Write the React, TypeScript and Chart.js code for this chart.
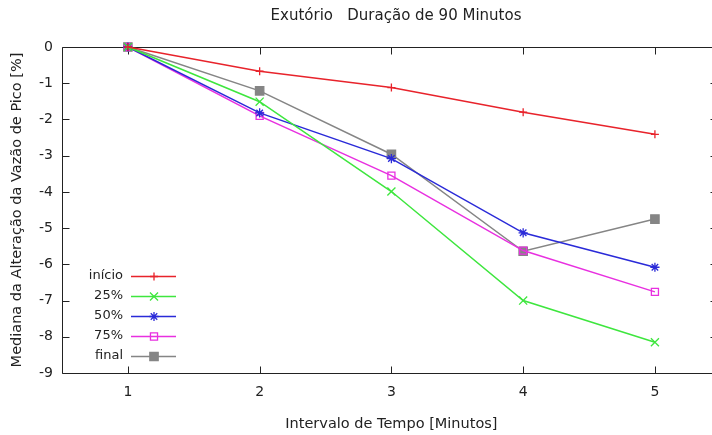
import React, { useEffect, useRef } from 'react';
import { Chart, registerables } from 'chart.js';
import { drawPoint } from 'chart.js/helpers';

Chart.register(...registerables);

const categories = [1, 2, 3, 4, 5];
const inicio = [0, -0.67, -1.12, -1.8, -2.41];
const p25 = [0, -1.51, -3.99, -7.0, -8.15];
const p50 = [0, -1.82, -3.08, -5.13, -6.08];
const p75 = [0, -1.9, -3.55, -5.62, -6.76];
const finalS = [0, -1.21, -2.96, -5.64, -4.75];
const seriesLabels = ['início', '25%', '50%', '75%', 'final'];
const yTickValues = [0, -1, -2, -3, -4, -5, -6, -7, -8, -9];
const chartTitle = 'Exutório   Duração de 90 Minutos';

const FONT = '"DejaVu Sans", sans-serif';
const TEXT = '#222';

const framePlugin = {
  id: 'frame',
  beforeDatasetsDraw(chart: any) {
    const { ctx, chartArea: a, scales } = chart;
    ctx.save();
    ctx.strokeStyle = '#222';
    ctx.lineWidth = 1;
    const l = Math.round(a.left) + 0.5;
    const t = Math.round(a.top) + 0.5;
    const b = Math.round(a.bottom) + 0.5;
    const r = Math.round(a.right) + 0.5;
    ctx.beginPath();
    ctx.moveTo(r, t);
    ctx.lineTo(l, t);
    ctx.lineTo(l, b);
    ctx.lineTo(r, b);
    ctx.stroke();
    const L = 7;
    ctx.beginPath();
    scales.x.ticks.forEach((tk: any) => {
      const px = Math.round(scales.x.getPixelForValue(tk.value)) + 0.5;
      ctx.moveTo(px, b);
      ctx.lineTo(px, b - L);
      ctx.moveTo(px, t);
      ctx.lineTo(px, t + L);
    });
    scales.y.ticks.forEach((tk: any) => {
      const py = Math.round(scales.y.getPixelForValue(tk.value)) + 0.5;
      ctx.moveTo(l, py);
      ctx.lineTo(l + L, py);
      ctx.moveTo(r, py);
      ctx.lineTo(r - 11, py);
    });
    ctx.stroke();
    ctx.fillStyle = TEXT;
    ctx.font = `15px ${FONT}`;
    ctx.textAlign = 'center';
    ctx.textBaseline = 'middle';
    ctx.fillText(chartTitle, 396, 16);
    ctx.restore();
  },
};

const legendPlugin = {
  id: 'gpLegend',
  afterDraw(chart: any) {
    const { ctx } = chart;
    ctx.save();
    chart.data.datasets.forEach((ds: any, i: number) => {
      const y = 276 + i * 20;
      ctx.font = `13px ${FONT}`;
      ctx.fillStyle = TEXT;
      ctx.textAlign = 'right';
      ctx.textBaseline = 'middle';
      ctx.fillText(ds.label, 123, y);
      ctx.strokeStyle = ds.borderColor;
      ctx.lineWidth = 1.5;
      ctx.beginPath();
      ctx.moveTo(131, y + 0.5);
      ctx.lineTo(176, y + 0.5);
      ctx.stroke();
      ctx.fillStyle = ds.pointBackgroundColor;
      ctx.strokeStyle = ds.borderColor;
      ctx.lineWidth = 1.3;
      drawPoint(ctx, { pointStyle: ds.pointStyle, radius: ds.pointRadius, borderWidth: 1.3, rotation: 0 } as any, 154, y + 0.5);
    });
    ctx.restore();
  },
};

function mk(label: string, data: number[], color: string, style: string, radius: number, fill: string) {
  return {
    label,
    data: categories.map((c, i) => ({ x: c, y: data[i] })),
    borderColor: color,
    backgroundColor: fill,
    pointBackgroundColor: fill,
    pointBorderColor: color,
    pointStyle: style,
    pointRadius: radius,
    pointBorderWidth: 1.3,
    borderWidth: 1.5,
    tension: 0,
    clip: false as any,
  };
}

export default function App() {
  const ref = useRef<HTMLCanvasElement>(null);
  useEffect(() => {
    if (!ref.current) return;
    const chart = new Chart(ref.current, {
      type: 'line',
      data: {
        datasets: [
          mk(seriesLabels[0], inicio, '#e8232b', 'cross', 4, '#e8232b'),
          mk(seriesLabels[1], p25, '#3ee63e', 'crossRot', 5.7, '#3ee63e'),
          mk(seriesLabels[2], p50, '#2a2ad8', 'star', 4.6, '#2a2ad8'),
          mk(seriesLabels[3], p75, '#e830e0', 'rect', 5, 'rgba(255,255,255,0)'),
          mk(seriesLabels[4], finalS, '#858585', 'rect', 5.9, '#858585'),
        ] as any,
      },
      options: {
        responsive: false,
        animation: false,
        layout: { padding: { left: 0, right: 3, top: 47, bottom: 0 } },
        plugins: {
          legend: { display: false },
          tooltip: { enabled: false },
          title: { display: false },
        },
        scales: {
          x: {
            type: 'linear',
            min: 0.5,
            max: 5.5,
            afterBuildTicks: (s: any) => {
              s.ticks = categories.map((v) => ({ value: v }));
            },
            afterFit: (s: any) => {
              s.height = 62;
            },
            grid: { display: false, drawTicks: false },
            border: { display: false },
            ticks: { color: TEXT, font: { family: FONT, size: 14 }, padding: 11, autoSkip: false, maxRotation: 0 },
            title: {
              display: true,
              text: 'Intervalo de Tempo [Minutos]',
              color: TEXT,
              font: { family: FONT, size: 14.5 },
              padding: { top: 0, bottom: 2.3 },
            },
          },
          y: {
            type: 'linear',
            min: -9,
            max: 0,
            afterBuildTicks: (s: any) => {
              s.ticks = yTickValues.map((v) => ({ value: v }));
            },
            afterFit: (s: any) => {
              s.width = 62;
            },
            grid: { display: false, drawTicks: false },
            border: { display: false },
            ticks: { color: TEXT, font: { family: FONT, size: 14 }, padding: 9 },
            title: {
              display: true,
              text: 'Mediana da Alteração da Vazão de Pico [%]',
              color: TEXT,
              font: { family: FONT, size: 14.5 },
              padding: { top: 9, bottom: 0 },
            },
          },
        },
      },
      plugins: [framePlugin, legendPlugin],
    });
    return () => chart.destroy();
  }, []);
  return (
    <div style={{ position: 'fixed', left: 0, top: 0, width: 712, height: 435, overflow: 'hidden', background: '#fff' }}>
      <canvas ref={ref} width={728} height={435} />
    </div>
  );
}
